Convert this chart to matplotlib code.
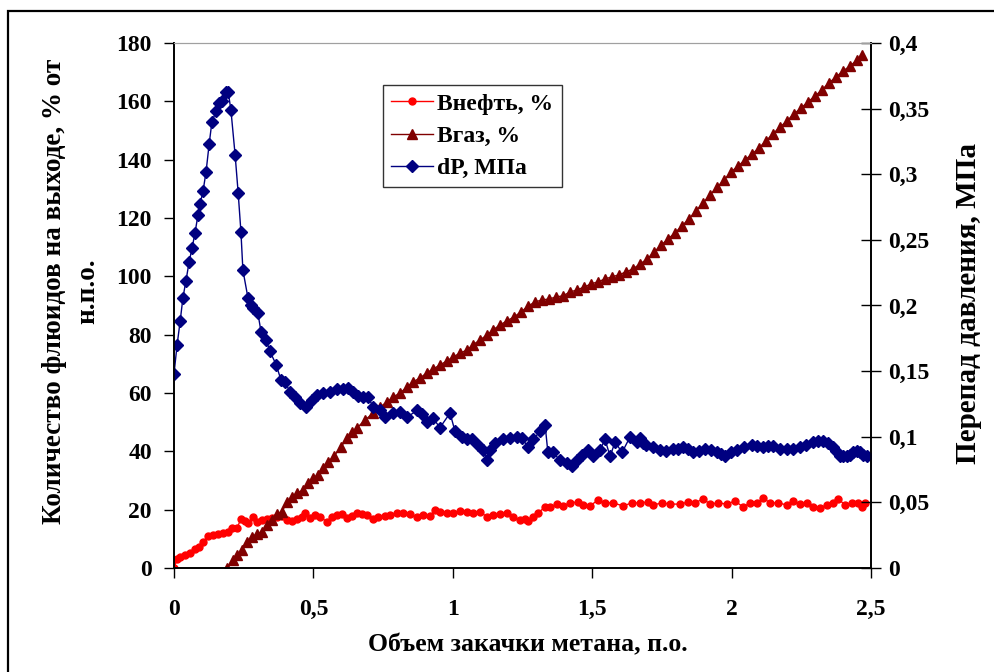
import matplotlib
matplotlib.use('Agg')
import matplotlib.pyplot as plt
from matplotlib.patches import Rectangle

plt.rcParams['font.family'] = ['Liberation Serif', 'DejaVu Serif']
plt.rcParams['font.weight'] = 'bold'
plt.rcParams['axes.labelweight'] = 'bold'

# Внефть, % (левая ось)
x_oil = [0.000, 0.011, 0.022, 0.039, 0.057, 0.075, 0.090, 0.104, 0.122, 0.140,
         0.158, 0.176, 0.194, 0.208, 0.226, 0.240, 0.255, 0.265, 0.283, 0.298,
         0.316, 0.334, 0.352, 0.369, 0.387, 0.405, 0.423, 0.441, 0.459, 0.470,
         0.488, 0.506, 0.524, 0.549, 0.567, 0.585, 0.603, 0.621, 0.638, 0.656,
         0.674, 0.692, 0.714, 0.732, 0.757, 0.775, 0.800, 0.821, 0.846, 0.872,
         0.893, 0.918, 0.936, 0.954, 0.979, 1.001, 1.026, 1.051, 1.072, 1.098,
         1.123, 1.144, 1.169, 1.194, 1.216, 1.241, 1.259, 1.270, 1.288, 1.306,
         1.331, 1.349, 1.374, 1.395, 1.420, 1.449, 1.467, 1.492, 1.521, 1.546,
         1.575, 1.610, 1.643, 1.671, 1.700, 1.718, 1.750, 1.779, 1.815, 1.844,
         1.869, 1.897, 1.923, 1.951, 1.984, 2.012, 2.041, 2.066, 2.091, 2.113,
         2.138, 2.166, 2.199, 2.220, 2.245, 2.270, 2.292, 2.317, 2.342, 2.364,
         2.382, 2.407, 2.432, 2.453, 2.468, 2.478]
oil = [0.0, 3.1, 3.8, 4.5, 5.1, 6.5, 7.2, 8.9, 11.0, 11.3,
       11.7, 12.0, 12.3, 13.7, 13.7, 16.8, 16.1, 15.4, 17.5, 15.8,
       16.5, 16.8, 17.1, 17.5, 17.8, 16.5, 16.1, 16.8, 17.5, 18.9,
       17.1, 18.2, 17.5, 15.8, 17.5, 18.2, 18.5, 17.1, 17.8, 18.9,
       18.5, 18.2, 16.8, 17.5, 17.8, 18.2, 18.9, 18.9, 18.5, 17.5,
       18.2, 17.8, 19.9, 19.2, 18.9, 18.9, 19.5, 19.2, 18.9, 19.2,
       17.5, 18.2, 18.5, 18.9, 17.5, 16.5, 16.8, 16.1, 17.5, 18.9,
       20.9, 20.9, 21.9, 21.3, 22.3, 22.6, 21.6, 21.3, 23.3, 22.3,
       22.3, 21.3, 22.3, 22.3, 22.6, 21.6, 22.3, 21.9, 21.9, 22.6,
       22.3, 23.7, 21.9, 22.3, 21.9, 23.0, 20.9, 22.3, 22.3, 24.0,
       22.3, 22.3, 21.6, 23.0, 21.9, 22.3, 20.9, 20.6, 21.6, 22.3,
       23.7, 21.6, 22.3, 22.3, 20.9, 22.3]

# Вгаз, % (левая ось)
x_gas = [0.190, 0.212, 0.226, 0.244, 0.262, 0.280, 0.298, 0.316, 0.334, 0.352,
         0.369, 0.387, 0.405, 0.423, 0.441, 0.463, 0.481, 0.499, 0.517, 0.535,
         0.552, 0.574, 0.599, 0.621, 0.638, 0.656, 0.685, 0.714, 0.739, 0.764,
         0.786, 0.811, 0.836, 0.857, 0.882, 0.907, 0.929, 0.954, 0.979, 1.001,
         1.026, 1.051, 1.072, 1.098, 1.123, 1.144, 1.169, 1.194, 1.220, 1.245,
         1.270, 1.295, 1.320, 1.345, 1.370, 1.395, 1.420, 1.445, 1.471, 1.496,
         1.521, 1.546, 1.571, 1.596, 1.621, 1.646, 1.671, 1.697, 1.722, 1.747,
         1.772, 1.797, 1.822, 1.847, 1.872, 1.897, 1.923, 1.948, 1.973, 1.998,
         2.023, 2.048, 2.073, 2.098, 2.123, 2.148, 2.174, 2.199, 2.224, 2.249,
         2.274, 2.299, 2.324, 2.349, 2.374, 2.400, 2.425, 2.450, 2.468]
gas = [0.0, 2.7, 4.5, 6.2, 8.9, 10.6, 11.7, 12.3, 14.7, 16.5,
       18.5, 19.2, 22.6, 24.3, 25.7, 26.7, 29.1, 30.9, 31.9, 34.3,
       36.3, 38.4, 41.5, 44.6, 46.6, 48.0, 50.7, 53.1, 55.2, 56.9,
       58.6, 60.0, 62.1, 63.8, 65.1, 66.9, 68.2, 69.6, 71.0, 72.3,
       73.7, 74.7, 76.5, 78.2, 79.9, 81.6, 83.3, 84.7, 86.1, 87.8,
       89.8, 91.2, 91.9, 92.2, 92.9, 93.3, 94.6, 95.3, 96.3, 97.4,
       98.1, 99.1, 99.8, 100.5, 101.5, 102.5, 104.2, 105.9, 108.3, 110.7,
       112.8, 114.9, 117.3, 119.7, 122.4, 125.1, 127.9, 130.6, 133.0, 135.8,
       137.8, 139.9, 141.9, 144.0, 146.4, 148.8, 151.2, 153.3, 155.7, 157.7,
       159.8, 161.8, 163.9, 166.3, 168.3, 170.4, 172.1, 174.2, 175.9]

# dP, МПа (правая ось)
x_dp = [0.000, 0.011, 0.022, 0.032, 0.043, 0.054, 0.065, 0.075, 0.086, 0.093,
        0.104, 0.115, 0.126, 0.136, 0.151, 0.161, 0.172, 0.187, 0.194, 0.204,
        0.219, 0.230, 0.240, 0.247, 0.265, 0.276, 0.283, 0.301, 0.312, 0.330,
        0.344, 0.366, 0.384, 0.398, 0.416, 0.434, 0.452, 0.473, 0.495, 0.513,
        0.534, 0.560, 0.585, 0.606, 0.624, 0.642, 0.660, 0.678, 0.696, 0.714,
        0.739, 0.757, 0.786, 0.811, 0.836, 0.872, 0.890, 0.907, 0.929, 0.954,
        0.990, 1.008, 1.033, 1.051, 1.069, 1.090, 1.108, 1.123, 1.133, 1.151,
        1.180, 1.205, 1.230, 1.248, 1.270, 1.288, 1.313, 1.331, 1.341, 1.359,
        1.385, 1.410, 1.428, 1.445, 1.463, 1.485, 1.503, 1.528, 1.546, 1.564,
        1.582, 1.607, 1.636, 1.661, 1.671, 1.682, 1.693, 1.718, 1.743, 1.765,
        1.790, 1.808, 1.826, 1.844, 1.862, 1.883, 1.905, 1.926, 1.948, 1.962,
        1.976, 1.998, 2.019, 2.044, 2.073, 2.091, 2.113, 2.131, 2.148, 2.174,
        2.199, 2.220, 2.245, 2.267, 2.292, 2.310, 2.328, 2.346, 2.364, 2.375,
        2.389, 2.400, 2.414, 2.425, 2.435, 2.450, 2.461, 2.471, 2.486]
dp = [0.148, 0.170, 0.188, 0.206, 0.219, 0.233, 0.244, 0.255, 0.269, 0.277,
      0.287, 0.302, 0.323, 0.340, 0.348, 0.354, 0.356, 0.363, 0.363, 0.349,
      0.315, 0.286, 0.256, 0.227, 0.206, 0.200, 0.198, 0.194, 0.180, 0.174,
      0.165, 0.155, 0.143, 0.142, 0.134, 0.130, 0.126, 0.123, 0.128, 0.132,
      0.133, 0.134, 0.136, 0.136, 0.137, 0.134, 0.131, 0.130, 0.130, 0.123,
      0.120, 0.115, 0.118, 0.119, 0.115, 0.120, 0.117, 0.111, 0.114, 0.107,
      0.118, 0.104, 0.100, 0.098, 0.098, 0.094, 0.090, 0.082, 0.090, 0.095,
      0.098, 0.099, 0.100, 0.099, 0.092, 0.098, 0.104, 0.109, 0.088, 0.088,
      0.082, 0.080, 0.078, 0.082, 0.086, 0.090, 0.085, 0.090, 0.098, 0.085,
      0.096, 0.088, 0.100, 0.096, 0.099, 0.095, 0.094, 0.092, 0.090, 0.089,
      0.091, 0.091, 0.092, 0.091, 0.088, 0.089, 0.091, 0.090, 0.088, 0.087,
      0.085, 0.088, 0.090, 0.092, 0.094, 0.093, 0.092, 0.093, 0.093, 0.091,
      0.091, 0.091, 0.092, 0.094, 0.096, 0.097, 0.097, 0.095, 0.092, 0.089,
      0.085, 0.085, 0.085, 0.086, 0.088, 0.089, 0.088, 0.086, 0.085]

x_ticks = [0, 0.5, 1, 1.5, 2, 2.5]
x_ticklabels = ['0', '0,5', '1', '1,5', '2', '2,5']
left_ticks = [0, 20, 40, 60, 80, 100, 120, 140, 160, 180]
right_ticks = [0, 0.05, 0.1, 0.15, 0.2, 0.25, 0.3, 0.35, 0.4]
right_ticklabels = ['0', '0,05', '0,1', '0,15', '0,2', '0,25', '0,3', '0,35', '0,4']

fig = plt.figure(figsize=(9.95, 6.72), dpi=100)
ax = fig.add_axes([0.1749, 0.1548, 0.7005, 0.7813])
ax2 = ax.twinx()

# рамка вокруг всей диаграммы
fig.patches.append(Rectangle((8 / 995, -0.05), 1.05, (672 - 11) / 672 + 0.05,
                             transform=fig.transFigure, fill=False,
                             edgecolor='black', linewidth=1.6))

l1, = ax.plot(x_oil, oil, color='#FF0000', marker='o', markersize=5,
              linewidth=1, label='Внефть, %')
l2, = ax.plot(x_gas, gas, color='#800000', marker='^', markersize=6.5,
              linewidth=1, label='Вгаз, %')
l3, = ax2.plot(x_dp, dp, color='#000080', marker='D', markersize=6.5,
               linewidth=1, label='dP, МПа')

ax.set_xlim(0, 2.5)
ax.set_ylim(0, 180)
ax2.set_ylim(0, 0.4)

ax.set_xticks(x_ticks)
ax.set_xticklabels(x_ticklabels)
ax.set_yticks(left_ticks)
ax2.set_yticks(right_ticks)
ax2.set_yticklabels(right_ticklabels)

ax.tick_params(axis='x', direction='out', length=7, width=1, pad=15, labelsize=17)
ax.tick_params(axis='y', direction='out', length=7, width=1, pad=9, labelsize=17)
ax2.tick_params(axis='y', direction='inout', length=14, width=1, pad=5, labelsize=17)

for a in (ax, ax2):
    a.spines['top'].set_color('#a0a0a0')
    for s in ('left', 'right', 'bottom'):
        a.spines[s].set_linewidth(1.2)

fig.text(0.53, 0.040, 'Объем закачки метана, п.о.', ha='center', va='center',
         fontsize=18.5)
fig.text(0.055, 0.567, 'Количество флюидов на выходе, % от', rotation=90,
         ha='center', va='center', fontsize=19.5)
fig.text(0.088, 0.567, 'н.п.о.', rotation=90,
         ha='center', va='center', fontsize=19.5)
fig.text(0.973, 0.549, 'Перепад давления, МПа', rotation=90,
         ha='center', va='center', fontsize=21)

leg = ax2.legend(handles=[l1, l2, l3], loc='upper left',
                 bbox_to_anchor=(0.30, 0.92), borderaxespad=0,
                 fontsize=17, frameon=True, fancybox=False,
                 handlelength=1.75, handletextpad=0.2, labelspacing=0.45,
                 borderpad=0.35)
leg.get_frame().set_edgecolor('black')
leg.get_frame().set_linewidth(1)

fig.savefig('out.png', dpi=100)
